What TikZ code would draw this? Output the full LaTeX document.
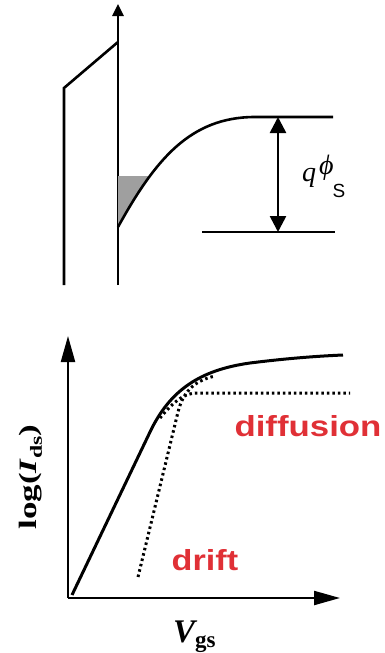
\documentclass[tikz,border=0pt]{standalone}
\usepackage{fontspec}
\setmainfont{Liberation Serif}
\setsansfont{Liberation Sans}
\usepackage{tikz}
\usetikzlibrary{arrows.meta}
\definecolor{labred}{RGB}{224,48,54}

\begin{document}
\begin{tikzpicture}[x=1pt, y=-1pt,
    band/.style={line width=2.6pt},
    vaxis/.style={line width=2.6pt, -{Triangle[length=12pt,width=11pt]}},
    axis/.style={line width=2.2pt, -{Triangle[length=26pt,width=14pt]}},
    dimarrow/.style={line width=2.6pt, {Triangle[length=16pt,width=16pt]}-{Triangle[length=16pt,width=16pt]}},
    dotcurve/.style={line width=3pt, dash pattern=on 2.5pt off 3pt},
    redlab/.style={font={\fontsize{29}{29}\selectfont\sffamily\bfseries}, text=labred, inner sep=0pt}
]
\useasboundingbox (0,0) rectangle (385,653);

% band diagram
\coordinate (oxbot) at (118,285);
\coordinate (oxtop) at (118,4);
\draw[vaxis] (oxbot) -- (oxtop);
\draw[band] (64,285) -- (64,88) -- (118,42);

\begin{scope}
  \clip (118,176) rectangle (220,300);
  \fill[gray!75] (118,227) .. controls (155,160) and (190,117) .. (255,117) -- (255,0) -- (118,0) -- cycle;
\end{scope}
\draw[band] (118,227) .. controls (155,160) and (190,117) .. (255,117) -- (333,117);
\draw[band] (202,232) -- (335,232);

\coordinate (ectop) at (278,117);
\coordinate (ecbot) at (278,232);
\draw[dimarrow] (ectop) -- (ecbot);

\node[anchor=base west, inner sep=0pt] (qphi) at (302,181)
  {{\fontsize{28}{28}\selectfont\itshape q\kern3pt\raisebox{7pt}{ϕ}}\kern-1pt\raisebox{-16pt}{\fontsize{19}{19}\sffamily S}};

% log(Ids) vs Vgs
\coordinate (orig) at (68,598);
\coordinate (ytop) at (68,336);
\coordinate (xend) at (340,598);
\draw[axis] (orig) -- (ytop);
\draw[axis] (orig) -- (xend);

\draw[line width=3pt] (72,595) -- (150,432) .. controls (170,390) and (200,370) .. (250,363)
  .. controls (290,358) and (320,356) .. (343,355);
\draw[dotcurve] (138,577) -- (178,412) .. controls (184,388) and (198,380) .. (215,376);
\draw[dotcurve] (160,418) .. controls (175,400) and (185,393) .. (197,393) -- (350,393);

\node[redlab] (diff) at (308,426) {\scalebox{1.2}[1]{diffusion}};
\node[redlab] (drift) at (205,560) {\scalebox{1.18}[1]{drift}};

\node[rotate=90, inner sep=0pt] (logI) at (31,477)
  {\scalebox{1.4}[1]{\fontsize{25}{25}\selectfont\bfseries log(\textit{I}\raisebox{-5pt}{\fontsize{17}{17}\selectfont ds})}};
\node[anchor=base west, inner sep=0pt] (vgs) at (173,642)
  {\fontsize{33}{33}\selectfont\bfseries\itshape V\upshape\raisebox{-5pt}{\fontsize{23}{23}\selectfont gs}};

\end{tikzpicture}
\end{document}
